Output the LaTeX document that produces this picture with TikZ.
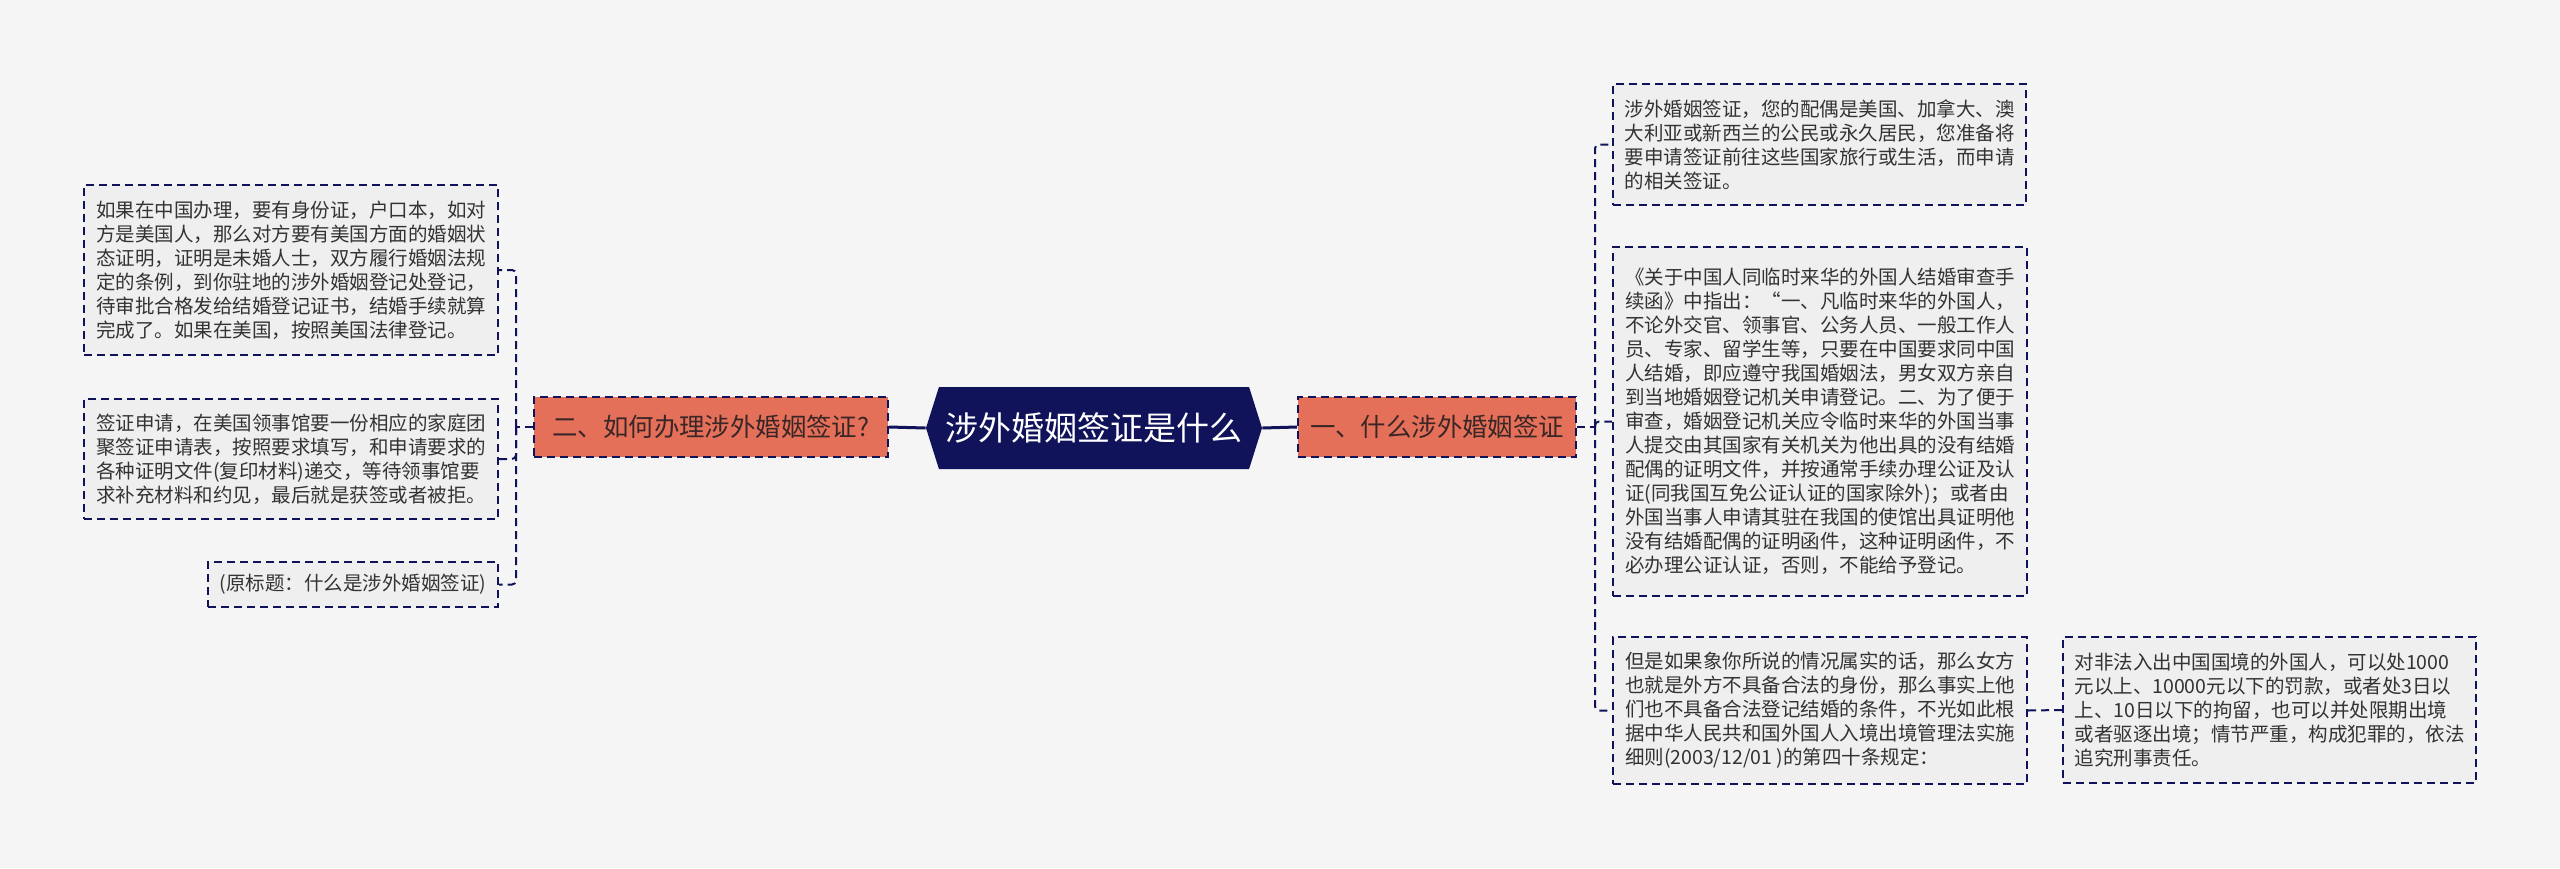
\documentclass[tikz,border=0pt]{standalone}
\usepackage{fontspec}
\newfontfamily\cjk{Noto Sans CJK SC}
\usetikzlibrary{shapes.symbols}
\definecolor{navy}{HTML}{11135A}
\definecolor{bgc}{HTML}{F5F5F6}
\definecolor{boxfill}{HTML}{EFEFEF}
\definecolor{topicfill}{HTML}{E5705A}
\definecolor{txt}{HTML}{333333}
\definecolor{topictxt}{HTML}{3A2626}
\begin{document}
\begin{tikzpicture}[x=0.5pt,y=-0.5pt,
  dashbox/.style={draw=navy, line width=1pt, dash pattern=on 4pt off 2.5pt},
  leaf/.style={dashbox, fill=boxfill, align=left, text=txt, inner sep=0pt,
    font=\cjk\fontsize{9.75}{12}\selectfont},
  topic/.style={dashbox, fill=topicfill, text=topictxt, inner sep=0pt,
    font=\cjk\fontsize{12.7}{15}\selectfont},
  root/.style={shape=signal, signal to=east and west, signal pointer angle=145,
    fill=navy, text=white, inner sep=0pt, font=\cjk\fontsize{16.5}{20}\selectfont},
  spine/.style={draw=navy, line width=1.5pt},
  branch/.style={draw=navy, line width=1pt, dash pattern=on 4pt off 2.5pt, rounded corners=2pt}
]
\fill[bgc] (0,0) rectangle (2560,868);
\useasboundingbox (0,0) rectangle (2560,868);

% root
\node[root, minimum width=168pt, minimum height=41pt] (root) at (1094,428) {涉外婚姻签证是什么};

% topics
\node[topic, minimum width=177pt, minimum height=30pt] (lt) at (711,427) {二、如何办理涉外婚姻签证?};
\node[topic, minimum width=139pt, minimum height=30pt] (rt) at (1437,427) {一、什么涉外婚姻签证};

% left leaves
\node[leaf, minimum width=207pt, minimum height=85pt] (l1) at (291,270) {如果在中国办理，要有身份证，户口本，如对\\方是美国人，那么对方要有美国方面的婚姻状\\态证明，证明是未婚人士，双方履行婚姻法规\\定的条例，到你驻地的涉外婚姻登记处登记，\\待审批合格发给结婚登记证书，结婚手续就算\\完成了。如果在美国，按照美国法律登记。};
\node[leaf, minimum width=207pt, minimum height=60pt] (l2) at (291,459) {签证申请，在美国领事馆要一份相应的家庭团\\聚签证申请表，按照要求填写，和申请要求的\\各种证明文件(复印材料)递交，等待领事馆要\\求补充材料和约见，最后就是获签或者被拒。};
\node[leaf, minimum width=145pt, minimum height=22.5pt] (l3) at (353,584.5) {(原标题：什么是涉外婚姻签证)};

% right leaves
\node[leaf, minimum width=206.5pt, minimum height=60.5pt] (r1) at (1819.5,144.5) {涉外婚姻签证，您的配偶是美国、加拿大、澳\\大利亚或新西兰的公民或永久居民，您准备将\\要申请签证前往这些国家旅行或生活，而申请\\的相关签证。};
\node[leaf, minimum width=207pt, minimum height=174.5pt] (r2) at (1820,421.5) {《关于中国人同临时来华的外国人结婚审查手\\续函》中指出：“一、凡临时来华的外国人，\\不论外交官、领事官、公务人员、一般工作人\\员、专家、留学生等，只要在中国要求同中国\\人结婚，即应遵守我国婚姻法，男女双方亲自\\到当地婚姻登记机关申请登记。二、为了便于\\审查，婚姻登记机关应令临时来华的外国当事\\人提交由其国家有关机关为他出具的没有结婚\\配偶的证明文件，并按通常手续办理公证及认\\证(同我国互免公证认证的国家除外)；或者由\\外国当事人申请其驻在我国的使馆出具证明他\\没有结婚配偶的证明函件，这种证明函件，不\\必办理公证认证，否则，不能给予登记。};
\node[leaf, minimum width=207pt, minimum height=73.5pt] (r3) at (1820,710.5) {但是如果象你所说的情况属实的话，那么女方\\也就是外方不具备合法的身份，那么事实上他\\们也不具备合法登记结婚的条件，不光如此根\\据中华人民共和国外国人入境出境管理法实施\\细则(2003/12/01 )的第四十条规定：};
\node[leaf, minimum width=206.5pt, minimum height=73pt] (r4) at (2269.5,710) {对非法入出中国国境的外国人，可以处1000\\元以上、10000元以下的罚款，或者处3日以\\上、10日以下的拘留，也可以并处限期出境\\或者驱逐出境；情节严重，构成犯罪的，依法\\追究刑事责任。};

% spine connectors
\draw[spine] (root.west) -- (lt.east);
\draw[spine] (root.east) -- (rt.west);

% left branches
\coordinate (lj) at (516,427);
\draw[branch] (lt.west) -- (lj);
\draw[branch] (lj) |- (l1.east);
\draw[branch] (lj) |- (l2.east);
\draw[branch] (lj) |- (l3.east);

% right branches
\coordinate (rj) at (1595,427);
\draw[branch] (rt.east) -- (rj);
\draw[branch] (rj) |- (r1.west);
\draw[branch] (rj) |- (r2.west);
\draw[branch] (rj) |- (r3.west);
\draw[branch] (r3.east) -- (r4.west);
\end{tikzpicture}
\end{document}
